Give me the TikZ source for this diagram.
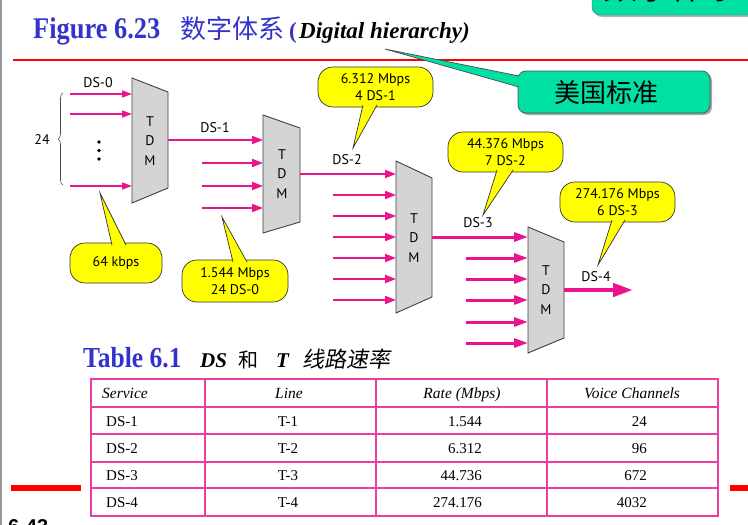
\documentclass[tikz,border=0pt]{standalone}
\usepackage{fontspec}
\setmainfont{Liberation Serif}
\newfontfamily\labelfont{PT Sans}
\newfontfamily\cjkfont{Noto Sans CJK SC}
\newfontfamily\cjkslanted[FakeSlant=0.18]{Noto Sans CJK SC}
\newfontfamily\narrowserif[FakeStretch=0.88]{Liberation Serif}
\newfontfamily\pagefont{Liberation Sans}
\usetikzlibrary{arrows.meta,decorations.pathreplacing,calc}

\definecolor{titleblue}{RGB}{51,51,204}
\definecolor{rulered}{RGB}{255,0,0}
\definecolor{signal}{RGB}{236,20,140}
\definecolor{gridpink}{RGB}{238,60,160}
\definecolor{muxgray}{RGB}{212,212,212}
\definecolor{noteyellow}{RGB}{255,255,0}
\definecolor{mint}{RGB}{0,224,164}
\definecolor{edgegray}{RGB}{150,150,150}

\tikzset{
  lbl/.style={inner sep=0pt, font=\labelfont\fontsize{14}{17}\selectfont, align=center},
  muxbody/.style={draw=black!75, line width=0.9pt, fill=muxgray, line join=miter},
  muxtext/.style={inner sep=0pt, align=center, font=\labelfont\fontsize{14}{19.5}\selectfont},
  feedA/.style={draw=signal, line width=1.5pt, -{Triangle[length=10pt,width=7pt]}},
  feedB/.style={draw=signal, line width=2pt, -{Triangle[length=11pt,width=8pt]}},
  feedC/.style={draw=signal, line width=3pt, -{Triangle[length=14pt,width=9pt]}},
  feedD/.style={draw=signal, line width=4.5pt, -{Triangle[length=20pt,width=13pt]}},
  note/.style={lbl, draw=black!80, line width=0.7pt, fill=noteyellow, rounded corners=15pt},
  notetail/.style={fill=noteyellow},
  tailedge/.style={draw=black!80, line width=0.7pt, line join=miter},
  cell/.style={inner sep=0pt, font=\fontsize{15}{17}\selectfont},
  headcell/.style={inner sep=0pt, font=\itshape\fontsize{15.5}{17}\selectfont},
  gridline/.style={draw=gridpink, line width=1.6pt},
}

\begin{document}
\begin{tikzpicture}[x=1pt,y=-1pt]
\useasboundingbox (0,0) rectangle (748,525);
\clip (0,0) rectangle (748,525);

% page frame pieces
\draw[edgegray, line width=1.5pt] (0.75,0) -- (0.75,525);
\draw[rulered, line width=2pt] (13,60) -- (748,60);
\fill[rulered] (11,485) rectangle (81,491);
\fill[rulered] (730,485) rectangle (748,491);
\node[anchor=base west, inner sep=0pt, font=\pagefont\bfseries\fontsize{20}{22}\selectfont] (pageno) at (8,533) {6-43};

% header tab in the corner
\fill[black!30, rounded corners=8pt] (594,-20) rectangle (760,17);
\draw[draw=black!60, fill=mint, rounded corners=8pt] (592,-20) rectangle (760,15);
\node[anchor=base west, inner sep=0pt, font=\cjkfont\fontsize{34}{36}\selectfont] (tabtext) at (603,-1) {数字体系};

% figure title
\node[anchor=base west, inner sep=0pt, text=titleblue, font=\narrowserif\bfseries\fontsize{30}{32}\selectfont] (figno) at (33,38) {Figure 6.23};
\node[anchor=base west, inner sep=0pt, text=titleblue, font=\cjkfont\fontsize{26}{28}\selectfont] (figcn) at (180,38) {数字体系};
\node[anchor=base west, inner sep=0pt, text=titleblue, font=\bfseries\fontsize{23}{25}\selectfont] (figparen) at (289,38) {(};
\node[anchor=base west, inner sep=0pt, font=\bfseries\itshape\fontsize{23}{25}\selectfont] (figen) at (299,38) {Digital hierarchy)};

% callout naming the standard
\fill[black!35, rounded corners=8pt] (520,73) rectangle (712,115);
\node[draw=black!70, line width=0.7pt, fill=mint, rounded corners=8pt, minimum width=192pt, minimum height=42pt, inner sep=0pt] (usstd) at (614,92) {};
\node[inner sep=0pt, font=\cjkfont\fontsize{26}{28}\selectfont] (usstdtext) at (606,93) {美国标准};
\coordinate (usstdtip) at (385,49);
\fill[mint] (usstdtip) -- (519,76) -- (524,76) -- (524,87) -- (519,87) -- cycle;
\draw[tailedge, draw=black!70] (519,76) -- (usstdtip) -- (519,87);

% ---------- first stage: 24 x DS-0 ----------
\draw[decorate, decoration={brace, amplitude=5pt}, black!70, line width=0.6pt] (63,185) -- (63,93);
\node[lbl] (n24) at (42,140) {24};
\node[lbl] (ds0) at (98,83) {DS-0};
\foreach \y [count=\i] in {94,114,186} {
  \coordinate (a\i) at (70,\y);
  \coordinate (b\i) at (132,\y);
  \draw[feedA] (a\i) -- (b\i);
}
\foreach \y [count=\i] in {142,150.5,159} \fill (99,\y) coordinate (dot\i) circle (1.9);

\draw[muxbody] (132,78) -- (168,92) -- (168,188) -- (132,203) -- cycle;
\node[muxtext] (mux1) at (150,141) {T\\D\\M};

% ---------- second stage: 4 x DS-1 ----------
\node[lbl] (ds1) at (215,128) {DS-1};
\coordinate (mux1out) at (168,140);
\coordinate (mux2in1) at (263,140);
\draw[feedB] (mux1out) -- (mux2in1);
\foreach \y [count=\i] in {163,186,208} {
  \coordinate (c\i) at (202,\y);
  \coordinate (d\i) at (263,\y);
  \draw[feedB] (c\i) -- (d\i);
}
\draw[muxbody] (263,115) -- (300,128) -- (300,222) -- (263,233) -- cycle;
\node[muxtext] (mux2) at (282,174) {T\\D\\M};

% ---------- third stage: 7 x DS-2 ----------
\node[lbl] (ds2) at (347,160) {DS-2};
\coordinate (mux2out) at (300,174);
\coordinate (mux3in1) at (396,174);
\draw[feedB] (mux2out) -- (mux3in1);
\foreach \y [count=\i] in {195,216,237,258,279,300} {
  \coordinate (e\i) at (333,\y);
  \coordinate (f\i) at (396,\y);
  \draw[feedB] (e\i) -- (f\i);
}
\draw[muxbody] (396,161) -- (432,178) -- (432,297) -- (396,313) -- cycle;
\node[muxtext] (mux3) at (414,238) {T\\D\\M};

% ---------- fourth stage: 6 x DS-3 ----------
\node[lbl] (ds3) at (478,223) {DS-3};
\coordinate (mux3out) at (432,237);
\coordinate (mux4in1) at (528,237);
\draw[feedC] (mux3out) -- (mux4in1);
\foreach \y [count=\i] in {258,279,300,322,343} {
  \coordinate (g\i) at (466,\y);
  \coordinate (h\i) at (528,\y);
  \draw[feedC] (g\i) -- (h\i);
}
\draw[muxbody] (528,227) -- (564,242) -- (564,338) -- (528,353) -- cycle;
\node[muxtext] (mux4) at (546,290) {T\\D\\M};

% ---------- DS-4 output ----------
\node[lbl] (ds4) at (596,277) {DS-4};
\coordinate (mux4out) at (564,290);
\coordinate (ds4end) at (633,290);
\draw[feedD] (mux4out) -- (ds4end);

% ---------- rate callouts ----------
\node[note, minimum width=92pt, minimum height=40pt] (r64) at (116,263) {64 kbps};
\coordinate (r64tip) at (100,193);
\fill[notetail] (112,245) -- (r64tip) -- (126,245) -- cycle;
\draw[tailedge] (112,245) -- (r64tip) -- (126,245);

\node[note, minimum width=106pt, minimum height=42pt] (r1544) at (235,281) {1.544 Mbps\\24 DS-0};
\coordinate (r1544tip) at (222,217);
\fill[notetail] (233,262) -- (r1544tip) -- (247,262) -- cycle;
\draw[tailedge] (233,262) -- (r1544tip) -- (247,262);

\node[note, minimum width=115pt, minimum height=40pt] (r6312) at (375.5,87) {6.312 Mbps\\4 DS-1};
\coordinate (r6312tip) at (353,148);
\fill[notetail] (363,105) -- (r6312tip) -- (377,105) -- cycle;
\draw[tailedge] (363,105) -- (r6312tip) -- (377,105);

\node[note, minimum width=115pt, minimum height=40pt] (r44376) at (505.5,152) {44.376 Mbps\\7 DS-2};
\coordinate (r44376tip) at (483,215);
\fill[notetail] (497,170) -- (r44376tip) -- (513,170) -- cycle;
\draw[tailedge] (497,170) -- (r44376tip) -- (513,170);

\node[note, minimum width=115pt, minimum height=40pt] (r274) at (617.5,202) {274.176 Mbps\\6 DS-3};
\coordinate (r274tip) at (598,265);
\fill[notetail] (612,220) -- (r274tip) -- (625,220) -- cycle;
\draw[tailedge] (612,220) -- (r274tip) -- (625,220);

% ---------- table title ----------
\node[anchor=base west, inner sep=0pt, text=titleblue, font=\narrowserif\bfseries\fontsize{29}{31}\selectfont] (tabno) at (83,367) {Table 6.1};
\node[anchor=base west, inner sep=0pt, font=\bfseries\itshape\fontsize{21}{23}\selectfont] (tabds) at (200,367) {DS};
\node[anchor=base west, inner sep=0pt, font=\cjkfont\fontsize{20}{22}\selectfont] (tabhe) at (238,367) {和};
\node[anchor=base west, inner sep=0pt, font=\bfseries\itshape\fontsize{21}{23}\selectfont] (tabt) at (276,367) {T};
\node[anchor=base west, inner sep=0pt, font=\cjkslanted\fontsize{22}{24}\selectfont] (tabcn) at (302,367) {线路速率};

% ---------- table grid ----------
\foreach \y in {407,434,462,488} \draw[gridline] (91,\y) -- (718,\y);
\foreach \x in {205,376,547} \draw[gridline] (\x,379) -- (\x,516);
\draw[gridline, line join=miter] (91,379) rectangle (718,516);

% ---------- table contents ----------
\node[headcell, anchor=base west] (hsvc) at (102,398) {Service};
\node[headcell, anchor=base] (hline) at (289,398) {Line};
\node[headcell, anchor=base] (hrate) at (462,398) {Rate (Mbps)};
\node[headcell, anchor=base] (hvoice) at (632,398) {Voice Channels};
\foreach \s/\t/\r/\v/\y [count=\i] in {DS-1/T-1/1.544/24/426, DS-2/T-2/6.312/96/453, DS-3/T-3/44.736/672/480, DS-4/T-4/274.176/4032/507} {
  \node[cell, anchor=base west] (svc\i) at (106,\y) {\s};
  \node[cell, anchor=base] (line\i) at (288,\y) {\t};
  \node[cell, anchor=base east] (rate\i) at (482,\y) {\r};
  \node[cell, anchor=base east] (voice\i) at (647,\y) {\v};
}
\end{tikzpicture}
\end{document}
